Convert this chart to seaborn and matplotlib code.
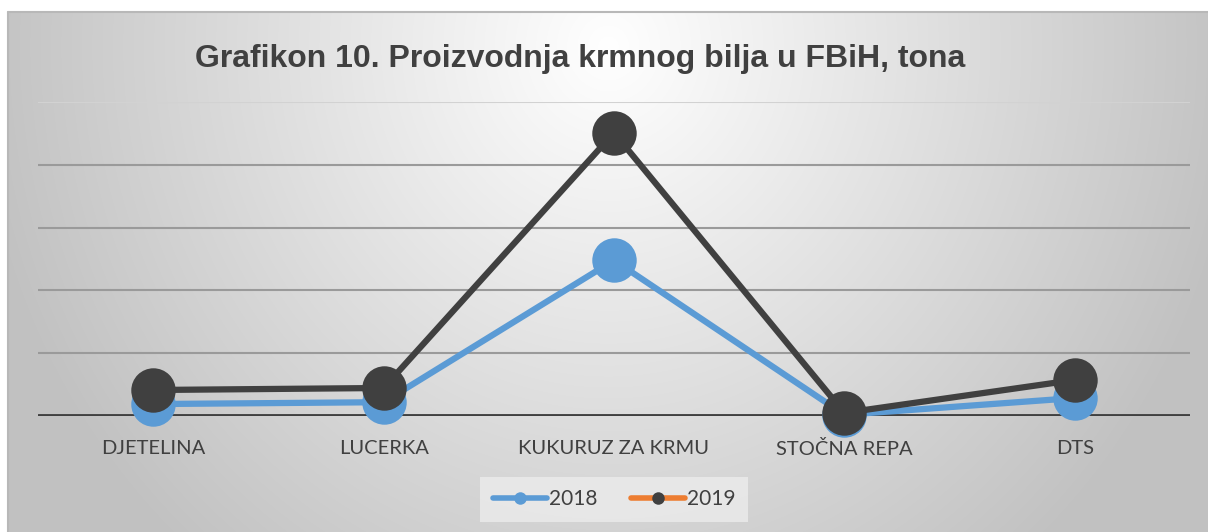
import numpy as np
import pandas as pd
import matplotlib.pyplot as plt
from matplotlib.lines import Line2D
import seaborn as sns

# Data (tonnes, estimated; y axis has no labels)
categories = ['DJETELINA', 'LUCERKA', 'KUKURUZ ZA KRMU', 'STOČNA REPA', 'DTS']
values_2018 = [9500, 11000, 124000, 1000, 14300]
values_2019 = [20700, 22300, 225500, 2500, 28700]
years = ['2018', '2019']

df = pd.DataFrame({
    'kategorija': categories * 2,
    'tona': values_2018 + values_2019,
    'godina': [years[0]] * len(categories) + [years[1]] * len(categories),
})

sns.set_theme(style='white')
plt.rcParams['font.family'] = ['Lato', 'DejaVu Sans']

fig = plt.figure(figsize=(12.08, 5.32), dpi=100)

# radial gradient background of the chart area
bg = fig.add_axes([8 / 1208, 0, 1 - 8 / 1208, 1 - 12 / 532], zorder=-5)
h, w = 520, 1200
yy, xx = np.mgrid[0:h, 0:w]
d = np.sqrt(((xx - 600) / 640.0) ** 2 + ((yy - 35) / 680.0) ** 2)
shade = 255 - 62 * np.clip(d, 0, 1)
bg.imshow(np.dstack([shade] * 3).astype(np.uint8), aspect='auto', extent=[0, 1, 0, 1])
bg.set_xlim(0, 1)
bg.set_ylim(0, 1)
bg.set_axis_off()
bg.plot([0, 0], [0, 1], color='#b8b8b8', lw=1.5, clip_on=False)
bg.plot([0, 1], [1, 1], color='#b8b8b8', lw=1.5, clip_on=False)

ax = fig.add_axes([38 / 1208, 1 - 416 / 532, 1152 / 1208, 314 / 532])
ax.set_facecolor('none')

palette = {'2018': '#5B9BD5', '2019': '#404040'}
sns.lineplot(data=df, x='kategorija', y='tona', hue='godina', palette=palette,
             marker='o', markersize=32, markeredgewidth=0, linewidth=4.5,
             sort=False, legend=False, ax=ax, clip_on=False)

ax.set_xlim(-0.5, len(categories) - 0.5)
ax.set_ylim(0, 250000)
ax.set_yticks([50000, 100000, 150000, 200000])
ax.yaxis.grid(True, color='#9a9a9a', lw=1.5)
ax.axhline(250000, color='#d2d2d2', lw=1.5, zorder=0)
ax.axhline(0, color='#404040', lw=3.5, zorder=1)
ax.set_yticklabels([])
ax.tick_params(axis='y', length=0)
ax.tick_params(axis='x', length=0, pad=17, labelsize=14.5, labelcolor='#404040')
ax.set_xlabel('')
ax.set_ylabel('')
for s in ax.spines.values():
    s.set_visible(False)

fig.text(580 / 1208, 1 - 59 / 532, 'Grafikon 10. Proizvodnja krmnog bilja u FBiH, tona',
         ha='center', va='center', fontsize=23, fontweight='bold',
         color='#404040', family=['Liberation Sans', 'DejaVu Sans'])

handles = [
    Line2D([], [], color='#5B9BD5', lw=4, marker='o', markersize=9,
           markerfacecolor='#5B9BD5', markeredgewidth=0, solid_capstyle='round'),
    Line2D([], [], color='#ED7D31', lw=4, marker='o', markersize=9,
           markerfacecolor='#404040', markeredgewidth=0, solid_capstyle='round'),
]
leg = fig.legend(handles, years, loc='center', bbox_to_anchor=(614 / 1208, 1 - 499 / 532),
                 ncol=2, frameon=True, fontsize=15, handlelength=2.6,
                 handletextpad=0.1, columnspacing=1.6, borderpad=0.6,
                 fancybox=False)
leg.get_frame().set_facecolor('#ececec')
leg.get_frame().set_edgecolor('none')
leg.get_frame().set_alpha(0.8)
for t in leg.get_texts():
    t.set_color('#404040')

fig.savefig('out.png', dpi=100)
